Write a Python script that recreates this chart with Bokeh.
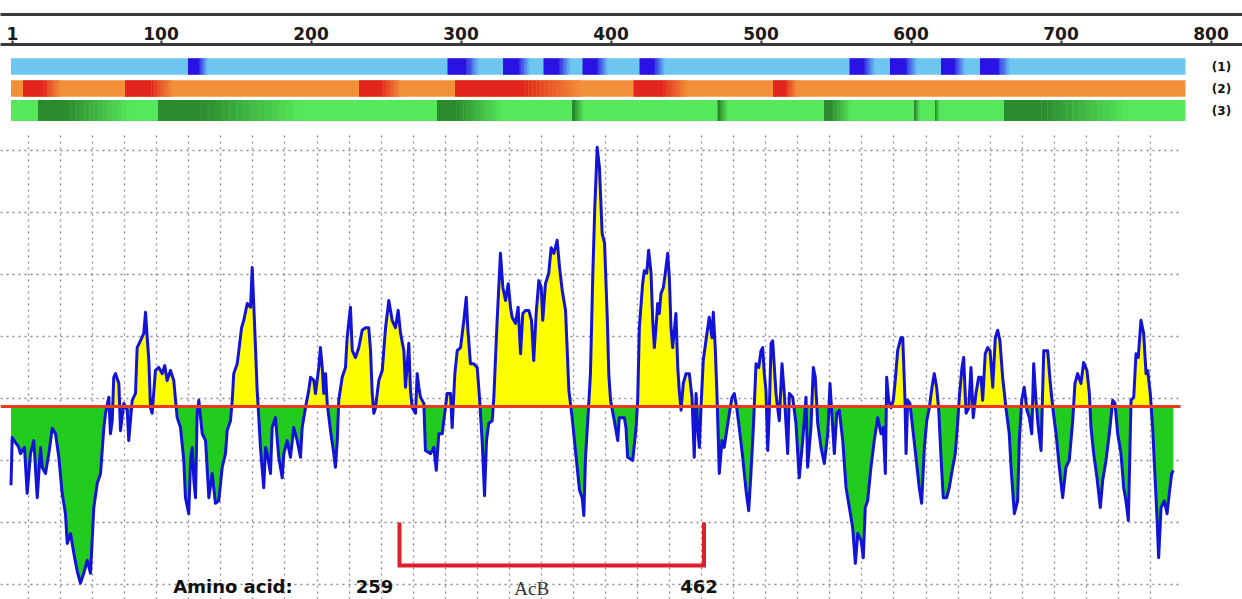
import numpy as np
from bokeh.plotting import figure
from bokeh.layouts import column
from bokeh.models import FixedTicker, LinearAxis, Range1d, FactorRange, Span, BoxAnnotation
from bokeh.core.properties import value
from bokeh.embed import file_html
from bokeh.resources import INLINE

# ---------------- data ----------------
axis_ticks = [1, 100, 200, 300, 400, 500, 600, 700, 800]
sequence_length = 783
tracks = ["(1)", "(2)", "(3)"]

# highlighted regions (residue start, residue end) on the three prediction tracks
track1_regions = [(118, 131), (291, 312), (328, 346), (355, 373), (381, 398),
                  (419, 436), (559, 576), (586, 604), (620, 636), (646, 666)]
track2_regions = [(8, 33), (76, 108), (232, 260), (296, 380), (415, 451), (508, 524)]
track3_regions = [(18, 80), (98, 193), (284, 328), (374, 382), (471, 478),
                  (542, 560), (602, 606), (616, 619), (662, 745)]

# profile (residue position, score) in six stretches
res_a = [0.0, 0.8, 5.2, 6.3, 9.0, 10.8, 13.0, 15.2, 17.5, 19.7,
         20.8, 23.0, 25.2, 27.5, 29.7, 31.9, 34.1, 36.3, 37.5, 39.7,
         41.9, 44.1, 46.3, 48.5, 50.8, 53.0, 54.1, 55.2, 57.5, 59.7,
         61.9, 63.0, 65.2, 66.3, 67.5, 68.5, 69.7, 71.9, 73.0, 75.2,
         77.5, 78.5, 80.8, 83.0, 84.1, 86.3, 88.5, 89.7, 90.8, 91.9,
         93.0, 94.1, 96.3, 98.5, 100.8, 102.5, 104.1, 106.3, 108.5, 109.7,
         110.8, 113.0, 115.2, 116.3, 118.5, 119.7, 120.8, 121.9, 123.0, 124.1,
         125.2, 127.5, 129.7]
score_a = [-1.27, -0.50, -0.66, -0.76, -0.66, -1.40, -0.76, -0.55, -1.47, -0.66,
           -0.98, -1.08, -0.76, -0.35, -0.44, -0.82, -1.40, -1.73, -2.21, -2.05,
           -2.37, -2.65, -2.85, -2.69, -2.48, -2.69, -2.16, -1.63, -1.24, -1.08,
           -0.34, -0.11, 0.15, -0.44, -0.23, 0.47, 0.53, 0.37, -0.39, 0.05,
           -0.06, -0.55, 0.10, 0.21, 0.95, 1.06, 1.18, 1.52, 1.11, 0.74,
           -0.02, -0.11, 0.58, 0.63, 0.53, 0.66, 0.42, 0.58, 0.42, 0.10,
           -0.18, -0.34, -0.87, -1.47, -1.73, -0.87, -0.66, -1.19, -1.47, -0.11,
           0.10, -0.44, -0.55]

res_b = [131.9, 134.1, 136.3, 138.5, 140.8, 143.0, 144.1, 146.3, 147.5, 148.5,
         150.8, 151.9, 153.7, 155.2, 157.5, 159.7, 160.8, 161.9, 163.0, 164.1,
         165.2, 166.3, 168.5, 169.7, 170.8, 173.0, 174.1, 176.3, 178.5, 180.8,
         181.9, 184.1, 186.3, 188.5, 190.8, 193.0, 194.1, 196.3, 198.5, 199.7,
         201.9, 203.0, 205.2, 206.3, 207.5, 208.5, 209.7, 210.8, 213.0, 215.2,
         216.3, 217.5, 218.5, 220.8, 223.0, 224.1, 226.3, 227.5, 229.7, 231.9,
         234.1, 236.3, 238.5, 239.7, 240.8, 241.9, 243.0, 245.2, 247.5, 249.7,
         251.9, 254.1, 256.3, 258.1, 259.7, 261.9, 263.0, 265.2]
score_b = [-1.47, -1.08, -1.56, -1.52, -0.98, -0.76, -0.39, -0.23, 0.10, 0.53,
           0.69, 0.90, 1.27, 1.39, 1.66, 1.60, 2.24, 1.60, 0.95, 0.26,
           -0.18, -0.66, -1.31, -0.66, -0.76, -1.08, -0.34, -0.18, -0.82, -1.15,
           -0.76, -0.55, -0.82, -0.34, -0.55, -0.82, -0.34, -0.02, 0.26, 0.47,
           0.42, 0.21, 0.63, 0.95, 0.63, 0.21, 0.53, 0.05, -0.39, -0.76,
           -0.98, -0.55, 0.10, 0.47, 0.63, 1.11, 1.60, 0.90, 0.79, 0.95,
           1.23, 1.27, 1.27, 0.90, 0.21, -0.11, -0.02, 0.42, 0.58, 1.27,
           1.71, 1.39, 1.27, 1.55, 1.18, 0.90, 0.31, 1.02]

res_c = [266.3, 267.5, 269.7, 270.8, 271.9, 273.0, 275.2, 276.3, 279.7, 281.9,
         283.5, 285.2, 287.5, 288.5, 290.8, 293.0, 294.1, 295.9, 297.5, 299.7,
         301.9, 303.5, 304.5, 306.3, 308.5, 310.8, 312.3, 314.1, 315.7, 317.0,
         318.5, 320.8, 321.9, 324.1, 326.3, 327.9, 329.7, 331.5, 333.0, 334.1,
         336.3, 338.1, 339.7, 341.2, 343.0, 345.2, 347.0, 348.5, 350.1, 351.9,
         353.5, 354.5, 356.3, 358.5, 360.1, 361.9, 364.1, 365.7, 367.5, 369.7,
         371.9, 374.1, 376.3, 379.0, 380.8, 381.9, 383.0, 384.8, 386.3, 387.9,
         389.2, 390.8, 392.3, 394.1, 395.7, 397.5, 398.5]
score_c = [0.26, -0.02, -0.11, 0.53, 0.31, 0.15, 0.05, -0.71, -0.76, -0.66,
           -1.03, -0.44, -0.44, -0.23, 0.21, 0.21, -0.34, 0.53, 0.90, 0.95,
           1.39, 1.76, 1.27, 0.69, 0.69, 0.63, 0.15, -0.55, -1.44, -0.55,
           -0.27, -0.23, 0.15, 1.39, 2.47, 1.92, 1.71, 1.98, 1.60, 1.44,
           1.34, 1.60, 0.85, 1.50, 1.55, 1.55, 1.39, 0.74, 1.50, 2.03,
           1.92, 1.39, 1.98, 2.15, 2.56, 2.47, 2.68, 2.24, 1.87, 1.55,
           0.26, -0.18, -0.71, -1.35, -1.47, -1.76, -0.82, -0.11, 0.53, 2.15,
           3.21, 4.18, 3.85, 2.79, 2.63, 1.44, 0.53]

res_d = [399.7, 400.3, 402.2, 404.5, 405.5, 408.9, 410.0, 411.1, 414.5, 416.7,
         417.8, 418.9, 421.1, 422.2, 423.8, 425.1, 426.7, 427.8, 428.9, 430.0,
         431.1, 432.2, 433.3, 434.9, 436.2, 437.8, 438.9, 440.0, 441.1, 443.3,
         444.5, 445.5, 446.7, 448.2, 450.0, 452.2, 454.0, 455.5, 456.7, 457.8,
         458.9, 460.0, 461.5, 463.3, 465.5, 467.3, 468.2, 469.5, 470.7, 472.2,
         474.0, 475.5, 477.1, 478.9, 480.7, 482.2, 483.8, 485.5, 487.8, 490.0,
         491.8, 493.3, 494.9, 496.7, 498.5, 500.0, 501.1, 502.2, 503.3, 504.5,
         505.5, 506.7, 507.8, 508.9, 510.0, 511.1, 512.2, 514.0, 515.5, 517.8,
         518.9, 521.1, 523.3, 525.5, 527.8, 530.0]
score_d = [0.10, 0.02, -0.23, -0.55, -0.18, -0.18, -0.34, -0.82, -0.87, -0.34,
           0.10, 1.27, 1.98, 2.19, 2.15, 2.52, 2.15, 1.39, 0.95, 1.27,
           1.66, 1.50, 1.82, 1.92, 2.15, 2.47, 2.08, 1.27, 0.95, 1.50,
           0.63, 0.26, -0.06, 0.37, 0.53, 0.53, 0.15, -0.82, 0.21, -0.34,
           -0.66, -0.02, 0.74, 1.06, 1.44, 1.11, 1.52, 0.95, 0.15, -1.08,
           -0.55, -0.66, -0.39, -0.11, 0.15, 0.21, -0.02, -0.34, -0.82, -1.35,
           -1.68, -1.08, -0.34, 0.69, 0.63, 0.90, 0.95, 0.53, 0.26, -0.71,
           -0.11, 1.02, 1.06, 0.63, 0.21, -0.02, -0.23, 0.69, 0.21, -0.76,
           0.21, 0.15, -0.27, -1.15, -0.55, 0.15]

res_e = [531.1, 533.3, 534.9, 536.2, 537.8, 540.0, 542.2, 544.5, 546.0, 547.8,
         548.9, 550.5, 552.2, 554.5, 556.7, 558.9, 561.1, 562.9, 564.5, 566.7,
         568.2, 569.5, 571.1, 573.3, 575.5, 577.8, 580.0, 581.5, 582.9, 583.8,
         585.1, 586.7, 588.2, 589.5, 591.1, 593.3, 594.5, 596.0, 596.7, 597.8,
         599.3, 601.1, 603.3, 605.5, 607.1, 608.9, 610.5, 612.2, 614.0, 615.5,
         617.1, 618.5, 620.0, 621.5, 623.8, 625.5, 627.8, 629.5, 631.1, 632.2,
         634.0, 635.1, 636.7, 638.5, 640.0, 641.5, 643.3, 645.1, 646.7, 647.8,
         649.5, 651.1, 652.7, 654.5, 656.2, 657.8, 659.3, 661.1, 663.3]
score_e = [-0.98, -0.34, 0.63, 0.47, -0.27, -0.66, -0.92, -0.44, 0.37, -0.34,
           -0.76, -0.11, -0.06, -0.55, -1.31, -1.63, -1.95, -2.53, -2.05, -2.16,
           -2.44, -1.63, -1.52, -0.98, -0.55, -0.18, -0.44, -0.34, -1.08, 0.47,
           0.10, -0.02, 0.10, 0.42, 0.90, 1.11, 1.11, 0.10, -0.76, 0.10,
           0.05, -0.34, -0.82, -1.31, -1.56, -0.66, -0.23, -0.02, 0.31, 0.53,
           0.31, -0.06, -0.82, -1.47, -1.47, -1.31, -0.98, -0.76, -0.27, 0.15,
           0.63, 0.79, -0.11, -0.02, 0.63, -0.18, 0.21, 0.47, 0.47, 0.10,
           0.85, 0.95, 0.90, 0.31, 1.11, 1.23, 1.06, 0.47, -0.02]

res_f = [665.5, 666.7, 668.9, 671.1, 672.2, 673.8, 675.5, 677.3, 678.9, 680.5,
         681.8, 683.3, 684.9, 686.7, 688.5, 691.1, 692.9, 694.5, 696.7, 698.9,
         701.1, 703.3, 705.5, 707.8, 709.3, 711.1, 713.3, 715.1, 717.3, 718.9,
         720.0, 721.8, 724.0, 726.2, 727.8, 730.0, 732.2, 734.5, 736.0, 737.8,
         740.0, 741.8, 743.3, 744.9, 746.7, 748.5, 750.0, 751.5, 753.3, 755.1,
         756.7, 757.8, 759.5, 761.1, 762.7, 764.0, 765.1, 766.7, 768.9, 770.7,
         772.2, 773.8, 774.9]
score_f = [-0.44, -0.98, -1.73, -1.52, -0.55, 0.10, 0.31, -0.06, -0.18, -0.44,
           0.69, 0.10, -0.34, -0.71, 0.90, 0.90, 0.37, -0.02, -0.44, -0.98,
           -1.47, -0.98, -0.87, -0.23, 0.37, 0.53, 0.37, 0.71, 0.58, 0.21,
           -0.34, -0.76, -1.15, -1.63, -1.19, -0.87, -0.44, 0.10, 0.05, -0.44,
           -0.76, -1.31, -1.52, -1.84, 0.10, 0.15, 0.85, 0.79, 1.39, 1.18,
           0.53, 0.58, 0.21, -0.34, -1.15, -1.79, -2.44, -1.63, -1.52, -1.73,
           -1.40, -1.08, -1.03]

threshold = 0.0
acb_start, acb_end = 259, 462
acb_name = "AcB"
range_title = "Amino acid:"

# ---------------- assemble ----------------
res_chunks = [res_a, res_b, res_c, res_d, res_e, res_f]
score_chunks = [score_a, score_b, score_c, score_d, score_e, score_f]
for rr, ss in zip(res_chunks, score_chunks):
    assert len(rr) == len(ss)
res = np.concatenate([np.array(c, float) for c in res_chunks])
score = np.concatenate([np.array(c, float) for c in score_chunks])

# insert threshold crossings so that the two fills meet exactly at the line
fx, fy = [res[0]], [score[0]]
for i in range(1, len(res)):
    a, b = score[i - 1], score[i]
    if (a - threshold) * (b - threshold) < 0:
        t = (threshold - a) / (b - a)
        fx.append(res[i - 1] + t * (res[i] - res[i - 1]))
        fy.append(threshold)
    fx.append(res[i])
    fy.append(score[i])
fx = np.array(fx)
fy = np.array(fy)

# ---------------- style ----------------
PX = 1.5            # pixels per residue
RES_LEFT = -7.0     # residue at the left edge of the canvas
W = 1242
H_TOP = 132
H_PLOT = 467
PLOT_END = 779.7    # profile area ends here (residue units)
BOLD = value("DejaVu Sans")

track_style = {
    "(1)": dict(base="#6cc6f0", dark="#2a12e4", solid=0.6, height=0.74),
    "(2)": dict(base="#f2903a", dark="#e2261e", solid=0.55, height=0.76),
    "(3)": dict(base="#55e85a", dark="#2c8a2e", solid=0.3, height=0.95),
}
track_regions = {"(1)": track1_regions, "(2)": track2_regions, "(3)": track3_regions}


def rgb(h):
    return np.array([int(h[i:i + 2], 16) for i in (1, 3, 5)], float)


def blend(c1, c2, t):
    c = rgb(c1) * (1 - t) + rgb(c2) * t
    return "#%02x%02x%02x" % tuple(int(round(v)) for v in c)


xr = Range1d(RES_LEFT, RES_LEFT + W / PX)

# ---------------- top panel: ruler and tracks ----------------
pA = figure(width=W, height=H_TOP, output_backend="svg", toolbar_location=None,
            x_range=xr,
            y_range=FactorRange(factors=["(3)", "(2)", "(1)"], range_padding=0.5,
                                range_padding_units="absolute"),
            x_axis_location="above", y_axis_location=None,
            min_border_left=0, min_border_right=0, min_border_top=44, min_border_bottom=0,
            outline_line_color=None, background_fill_color="white", border_fill_color="white")
pA.xgrid.visible = False
pA.ygrid.visible = False

ax = pA.xaxis[0]
ax.ticker = FixedTicker(ticks=axis_ticks)
ax.major_label_text_font = "DejaVu Sans"
ax.major_label_text_font_style = "bold"
ax.major_label_text_font_size = "17px"
ax.major_label_text_color = "#1a1a1a"
ax.major_label_standoff = 1
ax.major_tick_in = 0
ax.major_tick_out = 4
ax.major_tick_line_width = 2
ax.major_tick_line_color = "#333333"
ax.minor_tick_in = 0
ax.minor_tick_out = 0
ax.axis_line_width = 3
ax.axis_line_color = "#3a3a3a"
ax.axis_label = " "
ax.axis_label_text_font_size = "6px"
ax.axis_label_standoff = 0

top_rule = LinearAxis(ticker=FixedTicker(ticks=[]), axis_line_width=3, axis_line_color="#3a3a3a",
                      major_tick_in=0, major_tick_out=0, minor_tick_in=0, minor_tick_out=0,
                      major_label_text_font_size="1px")
pA.add_layout(top_rule, "above")

for tr in tracks:
    st = track_style[tr]
    pA.hbar(y=[tr], left=[0], right=[sequence_length], height=st["height"],
            fill_color=st["base"], line_color=None)
    ys, ls, rs, cs = [], [], [], []
    n = 14
    for a, b in track_regions[tr]:
        cut = a + (b - a) * st["solid"]
        ys.append(tr); ls.append(a); rs.append(cut + 0.05); cs.append(st["dark"])
        edges = np.linspace(cut, b, n + 1)
        for k in range(n):
            ys.append(tr); ls.append(edges[k]); rs.append(edges[k + 1] + 0.05)
            cs.append(blend(st["dark"], st["base"], (k + 0.5) / n))
    pA.hbar(y=ys, left=ls, right=rs, height=st["height"], fill_color=cs, line_color=None)

pA.text(x=[807] * 3, y=tracks, text=tracks, text_font=BOLD, text_font_style="bold",
        text_font_size="12px", text_align="center", text_baseline="middle", text_color="#111111")

# ---------------- profile panel ----------------
pB = figure(width=W, height=H_PLOT, output_backend="svg", toolbar_location=None,
            x_range=xr, y_range=Range1d(-3.113, 4.419),
            x_axis_location=None, y_axis_location=None,
            min_border_left=0, min_border_right=0, min_border_top=0, min_border_bottom=0,
            outline_line_color=None, background_fill_color="white", border_fill_color="white")

grid_x = np.arange(11.67, 765, 21.37)
grid_y = np.arange(-2.87, 4.3, 1.0)
pB.xgrid.ticker = FixedTicker(ticks=list(grid_x))
pB.ygrid.ticker = FixedTicker(ticks=list(grid_y))
for g in (pB.xgrid, pB.ygrid):
    g.grid_line_color = "#8a8a8a"
    g.grid_line_dash = "2 4"
    g.grid_line_width = 1.3

pB.varea(x=fx, y1=np.full(len(fx), threshold), y2=np.maximum(fy, threshold),
         fill_color="#ffff00")
pB.varea(x=fx, y1=np.minimum(fy, threshold), y2=np.full(len(fx), threshold),
         fill_color="#22cc1e")
pB.line(res, score, line_color="#1313d8", line_width=3, line_join="round")

pB.add_layout(Span(location=threshold, dimension="width", line_color="#ec3a1c", line_width=3))
# blank margin to the right of the profile area
pB.add_layout(BoxAnnotation(left=PLOT_END, fill_color="white", fill_alpha=1.0, line_color=None))

BR_TOP, BR_BOT = -1.87, -2.565
pB.line(x=[acb_start, acb_start, acb_end, acb_end], y=[BR_TOP, BR_BOT, BR_BOT, BR_TOP],
        line_color="#dd1f2c", line_width=4, line_join="miter")

TXT_Y = -2.90
pB.text(x=[148], y=[TXT_Y], text=[range_title], text_font=BOLD, text_font_style="bold",
        text_font_size="18px", text_align="center", text_baseline="alphabetic", text_color="#111111")
pB.text(x=[acb_start, acb_end], y=[TXT_Y, TXT_Y], text=[str(acb_start), str(acb_end)],
        x_offset=[-25, -5], text_font=BOLD, text_font_style="bold", text_font_size="18px",
        text_align="center", text_baseline="alphabetic", text_color="#111111")
pB.text(x=[(acb_start + acb_end) / 2], y=[-2.93], text=[acb_name], x_offset=-20,
        text_font=value("Liberation Serif"), text_font_size="19px",
        text_align="center", text_baseline="alphabetic", text_color="#333333")

layout = column(pA, pB, spacing=0)
open("out.html", "w").write(file_html(layout, INLINE))
